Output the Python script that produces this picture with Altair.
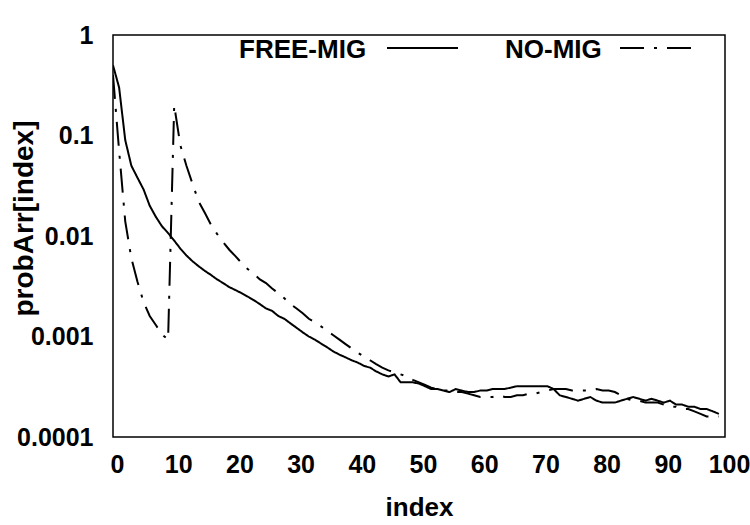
import altair as alt
import pandas as pd

# probability per index for the two migration policies
index = list(range(100))

free_mig = [
    0.5, 0.3, 0.09, 0.05, 0.038, 0.029, 0.02, 0.0155, 0.0125, 0.0107,
    0.009, 0.0075, 0.0064, 0.0056, 0.005, 0.0045, 0.0041, 0.0037, 0.0034, 0.0031,
    0.0029, 0.0027, 0.0025, 0.0023, 0.0021, 0.0019, 0.0018, 0.0016, 0.0015, 0.00135,
    0.00122, 0.0011, 0.001, 0.00093, 0.00085, 0.00078, 0.00071, 0.00066, 0.00062, 0.00058,
    0.00055, 0.00051, 0.00049, 0.00045, 0.00042, 0.0004, 0.00042, 0.00035, 0.00035, 0.00035,
    0.00034, 0.00032, 0.0003, 0.0003, 0.00029, 0.00028, 0.0003, 0.00029, 0.00028, 0.00028,
    0.00029, 0.00029, 0.0003, 0.0003, 0.0003, 0.00031, 0.00032, 0.00032, 0.00032, 0.00032,
    0.00032, 0.00032, 0.0003, 0.00026, 0.00025, 0.00024, 0.00023, 0.00024, 0.00025, 0.00023,
    0.00022, 0.00022, 0.00022, 0.00023, 0.00024, 0.00025, 0.00024, 0.00023, 0.00024, 0.00023,
    0.00022, 0.00023, 0.00021, 0.00021, 0.0002, 0.0002, 0.00019, 0.00019, 0.00018, 0.00017,
]

no_mig = [
    0.4, 0.07, 0.014, 0.006, 0.0035, 0.0022, 0.0016, 0.0013, 0.00105, 0.00093,
    0.2, 0.08, 0.05, 0.033, 0.022, 0.017, 0.013, 0.0105, 0.0087, 0.0073,
    0.0063, 0.0054, 0.0047, 0.0042, 0.0037, 0.0034, 0.003, 0.0027, 0.0024, 0.0021,
    0.0019, 0.0017, 0.0015, 0.00138, 0.00126, 0.00114, 0.00103, 0.00093, 0.00084, 0.00076,
    0.00069, 0.00063, 0.00058, 0.00053, 0.00049, 0.00046, 0.00044, 0.00042, 0.0004, 0.00037,
    0.00035, 0.00033, 0.00031, 0.0003, 0.00029, 0.00029, 0.00028, 0.00028, 0.00027, 0.00026,
    0.00025, 0.00025, 0.00025, 0.00026, 0.00025, 0.00025, 0.00026, 0.00026, 0.00027, 0.00027,
    0.00028, 0.00029, 0.0003, 0.0003, 0.0003, 0.00029, 0.00029, 0.00029, 0.00029, 0.0003,
    0.00029, 0.00029, 0.00028, 0.00026, 0.00024, 0.00023, 0.00023, 0.00022, 0.00022, 0.00022,
    0.00021, 0.0002, 0.0002, 0.00019, 0.00019, 0.00018, 0.00017, 0.00016, 0.00016, 0.00016,
]

series_names = ["FREE-MIG", "NO-MIG"]
x_ticks = list(range(0, 101, 10))
y_ticks = [1, 0.1, 0.01, 0.001, 0.0001]

df = pd.DataFrame({
    "index": index * 2,
    "prob": free_mig + no_mig,
    "series": [series_names[0]] * len(free_mig) + [series_names[1]] * len(no_mig),
})

FONT = "Liberation Sans"
SOLID = [1, 0]
DASH_DOT = [24, 10, 3, 10]

lines = alt.Chart(df).mark_line(color="black", strokeWidth=2, strokeCap="butt", clip=True).encode(
    x=alt.X(
        "index:Q",
        scale=alt.Scale(domain=[0, 100], nice=False, zero=False),
        axis=alt.Axis(
            values=x_ticks, title="index", labelOffset=4, labelPadding=15,
            labelFlush=False, labelOverlap=False, titleY=78, titleBaseline="alphabetic",
        ),
    ),
    y=alt.Y(
        "prob:Q",
        scale=alt.Scale(type="log", domain=[0.0001, 1], nice=False),
        axis=alt.Axis(
            values=y_ticks, format="~g", title="probArr[index]", labelPadding=20,
            labelOverlap=False, titleX=-89, titleY=183, titleAngle=270,
            titleBaseline="middle", titleAlign="center", titleFontSize=28,
        ),
    ),
    strokeDash=alt.StrokeDash(
        "series:N", scale=alt.Scale(domain=series_names, range=[SOLID, DASH_DOT]), legend=None
    ),
    detail="series:N",
)

# legend drawn inside the frame: label followed by its line sample
def legend_text(name, x):
    return alt.Chart(pd.DataFrame({"label": [name]})).mark_text(
        font=FONT, fontWeight="bold", fontSize=26, align="left", baseline="middle", color="black"
    ).encode(text="label:N", x=alt.value(x), y=alt.value(15))

def legend_line(name, x0, x1, dash):
    return alt.Chart(pd.DataFrame({"label": [name]})).mark_rule(
        color="black", strokeWidth=2, strokeDash=dash, strokeCap="butt"
    ).encode(x=alt.value(x0), x2=alt.value(x1), y=alt.value(13))

chart = alt.layer(
    lines,
    legend_text(series_names[0], 126),
    legend_line(series_names[0], 274, 345, SOLID),
    legend_text(series_names[1], 392),
    legend_line(series_names[1], 507, 580, DASH_DOT),
).properties(
    width=612,
    height=402,
    autosize="none",
    padding={"left": 113, "top": 35, "right": 25, "bottom": 88},
    background="white",
).configure_view(
    stroke="black", strokeWidth=1.5
).configure_axis(
    domain=False, ticks=False, tickSize=0, grid=False,
    labelFont=FONT, labelFontSize=25, labelFontWeight="bold", labelColor="black",
    titleFont=FONT, titleFontSize=26, titleFontWeight="bold", titleColor="black",
)

chart.save("out.html", embed_options={"renderer": "svg", "actions": False})
